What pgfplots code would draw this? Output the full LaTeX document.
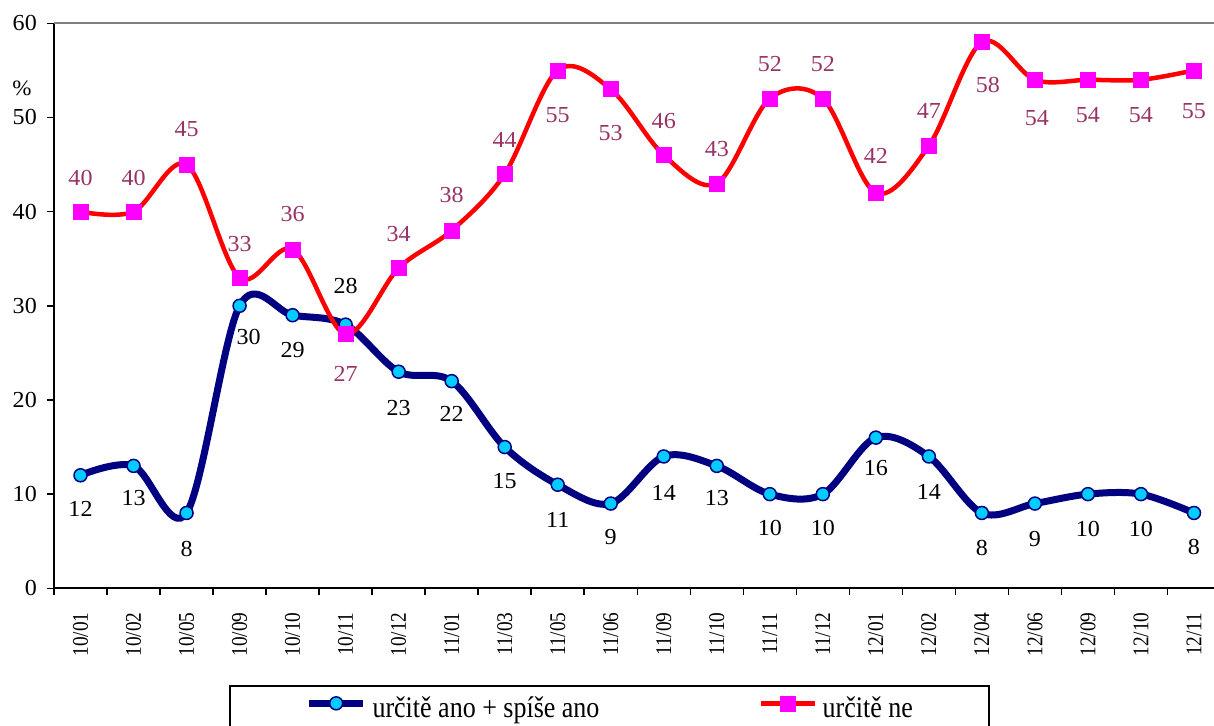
\documentclass[border=0pt]{standalone}
\usepackage{pgfplots}
\usepackage{pgfplotstable}
\pgfplotsset{compat=1.18}
\usepackage{fontspec}
\setmainfont[FakeStretch=1.05]{Liberation Serif}
\newfontfamily\xtf[FakeStretch=0.86]{Liberation Serif}
\newfontfamily\lgf[FakeStretch=0.87]{Liberation Serif}
\definecolor{navyb}{RGB}{0,0,128}
\definecolor{cyanm}{RGB}{0,204,255}
\definecolor{magm}{RGB}{255,0,255}
\definecolor{plum}{RGB}{153,51,102}
\definecolor{axgray}{RGB}{128,128,128}

\pgfplotstableread{
x y off xoff
0 12 -34 0
1 13 -32 0
2 8 -36 0
3 30 -31 9
4 29 -35 0
5 28 39 0
6 23 -36 0
7 22 -33 0
8 15 -34 0
9 11 -35 0
10 9 -33 0
11 14 -36 0
12 13 -32 0
13 10 -34 0
14 10 -34 0
15 16 -30 0
16 14 -35 0
17 8 -35 0
18 9 -35 0
19 10 -35 0
20 10 -35 0
21 8 -34 0
}\blueseries

\pgfplotstableread{
x y off xoff
0 40 34 0
1 40 34 0
2 45 35 0
3 33 34 0
4 36 35 0
5 27 -40 0
6 34 34 0
7 38 35 0
8 44 34 0
9 55 -45 0
10 53 -44 0
11 46 34 0
12 43 34 0
13 52 35 0
14 52 35 0
15 42 37 0
16 47 35 0
17 58 -43 6
18 54 -38 2
19 54 -35 0
20 54 -35 0
21 55 -41 0
}\redseries

\begin{document}
\begin{tikzpicture}
\begin{axis}[
  scale only axis,
  width=1166.5bp, height=565bp,
  xmin=-0.5, xmax=21.5, ymin=0, ymax=60,
  axis lines=left,
  axis line style={black, line width=2bp, -},
  xtick={-0.5,0.5,...,21.5},
  x tick label as interval,
  xticklabels={10/01,10/02,10/05,10/09,10/10,10/11,10/12,11/01,11/03,11/05,11/06,11/09,11/10,11/11,11/12,12/01,12/02,12/04,12/06,12/09,12/10,12/11},
  ytick={0,10,...,60},
  tick align=outside,
  major tick length=7bp,
  tick style={black, line width=1.5bp},
  /pgf/number format/assume math mode=true,
  yticklabel style={font=\fontsize{23}{23}\selectfont, inner sep=0pt, xshift=-10bp},
  xticklabel style={font=\xtf\fontsize{22.5}{23}\selectfont, rotate=90, anchor=east, inner sep=0pt},
  xticklabel shift=17bp,
  every axis y label/.style={at={(axis description cs:-0.0274,0.8855)}, anchor=center},
  ylabel={\fontsize{22}{22}\selectfont\%},
  clip=false,
  legend columns=2,
  legend style={at={(axis description cs:0.1503,-0.1712)}, anchor=north west,
    draw=black, line width=2bp, inner xsep=75.5bp, inner ysep=2bp,
    font=\lgf\fontsize{30}{30}\selectfont,
    nodes={inner sep=0pt, text height=29bp, text depth=18bp},
    cells={anchor=base west},
    /tikz/every odd column/.append style={column sep=6bp},
    /tikz/every even column/.append style={column sep=159bp}},
  legend image code/.code={\draw[mark repeat=2,mark phase=2] plot coordinates {(0bp,13.7bp) (26.85bp,13.7bp) (53.7bp,13.7bp)};},
  after end axis/.code={\draw[axgray, line width=2bp] (rel axis cs:0,1) -- (rel axis cs:1,1) -- (rel axis cs:1,0);},
]
\addplot[navyb, line width=7bp, smooth, tension=0.55,
  mark=*, mark options={fill=cyanm, draw=navyb, line width=1.5bp, mark size=6.5bp},
  nodes near coords, point meta=y,
  visualization depends on={\thisrow{off}\as\off},
  visualization depends on={\thisrow{xoff}\as\xoff},
  every node near coord/.append style={text=black, font=\fontsize{23}{23}\selectfont, anchor=center, inner sep=0pt, yshift=\off*1bp, xshift=\xoff*1bp}]
  table[x=x,y=y] {\blueseries};
\addlegendentry{určitě ano + spíše ano}
\addplot[red, line width=4.5bp, smooth, tension=0.55,
  mark=square*, mark options={fill=magm, draw=magm, line width=0.5bp, mark size=7.5bp},
  nodes near coords, point meta=y,
  visualization depends on={\thisrow{off}\as\off},
  visualization depends on={\thisrow{xoff}\as\xoff},
  every node near coord/.append style={text=plum, font=\fontsize{23}{23}\selectfont, anchor=center, inner sep=0pt, yshift=\off*1bp, xshift=\xoff*1bp}]
  table[x=x,y=y] {\redseries};
\addlegendentry{\makebox[91.3bp][l]{určitě ne}}
\end{axis}
\pgfresetboundingbox
\path[use as bounding box] (-54bp,-137.7bp) rectangle (1160bp,588.3bp);
\end{tikzpicture}
\end{document}
